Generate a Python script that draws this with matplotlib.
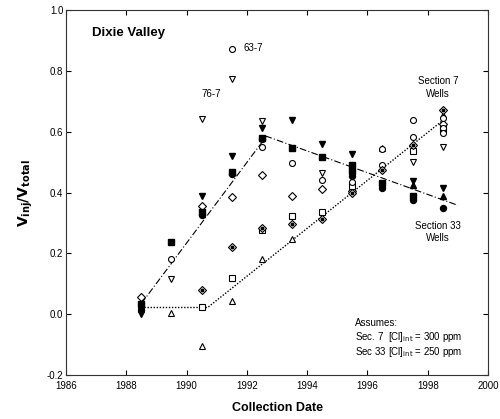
import matplotlib.pyplot as plt

plt.rcParams['font.family'] = ['Liberation Sans', 'DejaVu Sans']

# Section 33 wells (filled symbols)
fdn_yr = [1988.5, 1990.5, 1991.5, 1992.5, 1993.5, 1994.5, 1995.5, 1997.5, 1998.5]
fdn_v = [0.00, 0.39, 0.52, 0.613, 0.637, 0.558, 0.528, 0.437, 0.414]
fsq_yr = [1988.5, 1989.5, 1990.5, 1991.5, 1992.5, 1993.5, 1994.5, 1995.5, 1995.5, 1996.5, 1997.5]
fsq_v = [0.035, 0.238, 0.335, 0.468, 0.58, 0.548, 0.517, 0.49, 0.47, 0.43, 0.39]
fci_yr = [1988.5, 1990.5, 1991.5, 1992.5, 1995.5, 1996.5, 1997.5, 1998.5]
fci_v = [0.015, 0.325, 0.46, 0.575, 0.455, 0.415, 0.375, 0.348]
fup_yr = [1997.5, 1998.5]
fup_v = [0.424, 0.388]

# Section 7 wells (open symbols)
oci_yr = [1989.5, 1991.5, 1992.5, 1993.5, 1994.5, 1995.5, 1996.5, 1996.5, 1997.5, 1997.5, 1998.5, 1998.5, 1998.5]
oci_v = [0.18, 0.872, 0.55, 0.496, 0.441, 0.435, 0.542, 0.49, 0.638, 0.583, 0.645, 0.612, 0.595]
odn_yr = [1988.5, 1989.5, 1990.5, 1991.5, 1992.5, 1994.5, 1997.5, 1998.5]
odn_v = [0.01, 0.115, 0.641, 0.773, 0.636, 0.465, 0.50, 0.55]
odi_yr = [1988.5, 1990.5, 1991.5, 1992.5, 1993.5, 1994.5, 1995.5, 1998.5]
odi_v = [0.058, 0.355, 0.385, 0.457, 0.387, 0.41, 0.405, 0.625]
ddi_yr = [1990.5, 1991.5, 1992.5, 1993.5, 1994.5, 1995.5, 1996.5, 1997.5, 1998.5]
ddi_v = [0.078, 0.222, 0.282, 0.295, 0.313, 0.397, 0.474, 0.556, 0.671]
osq_yr = [1990.5, 1991.5, 1992.5, 1993.5, 1994.5, 1995.5, 1997.5, 1998.5]
osq_v = [0.025, 0.12, 0.277, 0.322, 0.336, 0.42, 0.535, 0.61]
oup_yr = [1989.5, 1990.5, 1991.5, 1992.5, 1993.5, 1996.5, 1998.5]
oup_v = [0.005, -0.105, 0.043, 0.18, 0.248, 0.545, 0.655]

# trend lines
s33_line_yr = [1988.5, 1992.65, 1999.0]
s33_line_v = [0.035, 0.585, 0.358]
s7_line_yr = [1988.5, 1990.7, 1998.6]
s7_line_v = [0.022, 0.022, 0.645]

fig = plt.figure(figsize=(5, 4.19), dpi=100)
ax = fig.add_axes([0.132, 0.105, 0.844, 0.871])

ax.plot(s33_line_yr, s33_line_v, color='black', lw=0.8, dashes=(6, 2, 1, 2), zorder=1)
ax.plot(s7_line_yr, s7_line_v, color='black', lw=1.0, dashes=(1, 1.2), zorder=1)

ms = 4.3
open_kw = dict(ls='none', mfc='white', mec='black', mew=0.8, ms=ms, zorder=3)
fill_kw = dict(ls='none', mfc='black', mec='black', ms=ms, zorder=4)

ax.plot(odi_yr, odi_v, marker='D', **dict(open_kw, ms=3.8))
ax.plot(osq_yr, osq_v, marker='s', **open_kw)
ax.plot(oup_yr, oup_v, marker='^', **open_kw)
ax.plot(odn_yr, odn_v, marker='v', **open_kw)
ax.plot(oci_yr, oci_v, marker='o', **open_kw)
ax.plot(ddi_yr, ddi_v, marker='D', **dict(open_kw, ms=3.8))
ax.plot(ddi_yr, ddi_v, marker='o', ls='none', color='black', ms=1.8, zorder=3)

ax.plot(fsq_yr, fsq_v, marker='s', **fill_kw)
ax.plot(fci_yr, fci_v, marker='o', **fill_kw)
ax.plot(fup_yr, fup_v, marker='^', **fill_kw)
ax.plot(fdn_yr, fdn_v, marker='v', **fill_kw)

ax.set_xlim(1986, 2000)
ax.set_ylim(-0.2, 1.0)
ax.set_xticks(range(1986, 2001, 2))
ax.set_yticks([-0.2, 0.0, 0.2, 0.4, 0.6, 0.8, 1.0])
ax.set_yticklabels(['-0.2', '0.0', '0.2', '0.4', '0.6', '0.8', '1.0'])
ax.tick_params(direction='in', top=True, right=True, length=3.5, width=0.8,
               labelsize=7, pad=2)
ax.tick_params(axis='x', pad=4.5)
for s in ax.spines.values():
    s.set_linewidth(0.8)
    s.set_color('#333333')

ax.set_xlabel('Collection Date', fontsize=9, fontweight='bold', labelpad=8)
ax.set_ylabel(r'$\mathbf{V_{inj}/V_{total}}$', fontsize=10, labelpad=8)

ax.text(1986.85, 0.925, 'Dixie Valley', fontsize=9.5, fontweight='bold', va='center')
ax.text(1991.9, 0.875, '63-7', fontsize=7, va='center')
ax.text(1990.5, 0.725, '76-7', fontsize=7, va='center')
ax.text(1998.35, 0.745, 'Section 7\nWells', fontsize=7, ha='center', va='center',
        linespacing=1.3)
ax.text(1998.35, 0.27, 'Section 33\nWells', fontsize=7, ha='center', va='center',
        linespacing=1.3)
ax.text(1995.6, -0.03, 'Assumes:', fontsize=7, va='center')
ax.text(1995.6, -0.075, r'Sec. 7  [Cl]$_{\mathrm{int}}$ = 300 ppm', fontsize=7, va='center')
ax.text(1995.6, -0.125, r'Sec 33 [Cl]$_{\mathrm{int}}$ = 250 ppm', fontsize=7, va='center')

fig.savefig('out.png', dpi=100)
